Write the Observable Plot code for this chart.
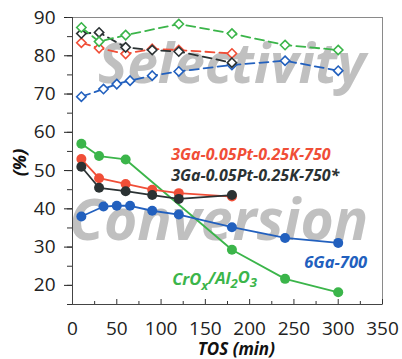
<!DOCTYPE html>
<html>
<head>
<meta charset="utf-8">
<script src="https://cdn.jsdelivr.net/npm/d3@7"></script>
<script src="https://cdn.jsdelivr.net/npm/@observablehq/plot@0.6"></script>
<style>
  body { margin: 0; background: #fff; }
  #chart svg { display: block; }
</style>
</head>
<body>
<div id="chart"></div>
<script>
// ---- data (TOS in min, values in %) ----
const convGreenT = [10, 30, 60, 180, 240, 300];
const convGreen  = [57.0, 53.8, 52.9, 29.3, 21.7, 18.2];
const convRedT   = [10, 30, 60, 90, 120, 180];
const convRed    = [53.0, 48.0, 46.5, 45.0, 44.1, 43.2];
const convBlackT = [10, 30, 60, 90, 120, 180];
const convBlack  = [51.0, 45.5, 44.6, 43.6, 42.6, 43.6];
const convBlueT  = [10, 35, 50, 65, 90, 120, 180, 240, 300];
const convBlue   = [38.0, 40.6, 40.8, 40.8, 39.5, 38.5, 35.2, 32.4, 31.1];

const selGreenT = [10, 30, 60, 120, 180, 240, 300];
const selGreen  = [87.4, 83.7, 85.4, 88.3, 85.8, 82.8, 81.5];
const selBlackT = [10, 30, 60, 90, 120, 180];
const selBlack  = [85.8, 86.1, 82.2, 81.5, 81.1, 78.2];
const selRedT   = [10, 30, 60, 90, 120, 180];
const selRed    = [83.4, 82.0, 80.5, 81.8, 81.5, 80.6];
const selBlueT  = [10, 35, 50, 65, 90, 120, 180, 240, 300];
const selBlue   = [69.3, 71.3, 72.6, 73.5, 74.8, 75.9, 77.6, 78.7, 76.1];

const xTicks = [0, 50, 100, 150, 200, 250, 300, 350];
const yTicks = [20, 30, 40, 50, 60, 70, 80, 90];

const GREEN = "#3bb54a", RED = "#f04e37", BLACK = "#2b3233", BLUE = "#2260be";

const zip = (t, v) => t.map((x, i) => ({x, y: v[i]}));

const conv = [
  {data: zip(convGreenT, convGreen), color: GREEN},
  {data: zip(convBlueT, convBlue), color: BLUE},
  {data: zip(convRedT, convRed), color: RED},
  {data: zip(convBlackT, convBlack), color: BLACK}
];
const sel = [
  {data: zip(selBlueT, selBlue), color: BLUE},
  {data: zip(selRedT, selRed), color: RED},
  {data: zip(selBlackT, selBlack), color: BLACK},
  {data: zip(selGreenT, selGreen), color: GREEN}
];

const FONT = "Open Sans";
const labelStyle = {fontFamily: FONT, fontWeight: "bold", fontStyle: "italic"};

const marks = [
  Plot.frame({stroke: "#8a8a8a", strokeWidth: 1}),
  Plot.text(["Selectivity"], {x: () => 180, y: () => 77.4, text: d => d, fill: "#c0c0c0",
    fontSize: 55, ...labelStyle, lineAnchor: "middle", textAnchor: "middle"}),
  Plot.text(["Conversion"], {x: () => 165, y: () => 36.5, text: d => d, fill: "#c0c0c0",
    fontSize: 57, ...labelStyle, lineAnchor: "middle", textAnchor: "middle"}),
  Plot.axisY({ticks: yTicks, tickSize: 8, tickPadding: 9, fontSize: 19, fontFamily: FONT, label: null, color: "#222"}),
  Plot.axisY({ticks: d3.range(15, 91, 5), tickSize: 5, text: null, label: null, color: "#333"}),
  Plot.axisX({ticks: xTicks, tickSize: 0, tickPadding: 17, fontSize: 19, fontFamily: FONT, label: null, color: "#222"}),
  Plot.axisX({ticks: xTicks, tickSize: -5, text: null, label: null, color: "#333"}),
  Plot.axisX({ticks: d3.range(25, 351, 50), tickSize: -3, text: null, label: null, color: "#333"}),
  Plot.ruleX([0], {stroke: "#444"}),
  Plot.ruleY([15], {stroke: "#444"})
];

for (const s of sel) {
  marks.push(Plot.line(s.data, {x: "x", y: "y", stroke: s.color, strokeWidth: 1.8, strokeDasharray: "9,5"}));
  marks.push(Plot.dot(s.data, {x: "x", y: "y", symbol: "diamond2", r: 4.2, stroke: s.color, strokeWidth: 1.6, fill: "white"}));
}
for (const s of conv) {
  marks.push(Plot.line(s.data, {x: "x", y: "y", stroke: s.color, strokeWidth: 1.8}));
  marks.push(Plot.dot(s.data, {x: "x", y: "y", r: 5, fill: s.color}));
}

marks.push(
  Plot.text(["3Ga-0.05Pt-0.25K-750"], {x: () => 111.4, y: () => 54.2, text: d => d, fill: RED,
    fontSize: 16, ...labelStyle, textAnchor: "start", lineAnchor: "middle"}),
  Plot.text(["3Ga-0.05Pt-0.25K-750*"], {x: () => 111.4, y: () => 48.7, text: d => d, fill: BLACK,
    fontSize: 16, ...labelStyle, textAnchor: "start", lineAnchor: "middle"}),
  Plot.text(["6Ga-700"], {x: () => 332.6, y: () => 26.0, text: d => d, fill: BLUE,
    fontSize: 16.5, ...labelStyle, textAnchor: "end", lineAnchor: "middle"}),
  Plot.text(["CrOx/Al2O3"], {x: () => 112.5, y: () => 21.5, text: d => d, fill: GREEN,
    fontSize: 16.5, ...labelStyle, textAnchor: "start", lineAnchor: "middle"}),
  Plot.text(["(%)"], {frameAnchor: "left", y: () => 52.1, text: d => d, dx: -52, rotate: -90,
    fill: "#111", fontSize: 18, ...labelStyle, textAnchor: "middle", lineAnchor: "middle"}),
  Plot.text(["TOS (min)"], {frameAnchor: "bottom", x: () => 185, text: d => d, dy: 45.5,
    fill: "#111", fontSize: 17, ...labelStyle, textAnchor: "middle", lineAnchor: "middle"})
);

const chart = Plot.plot({
  width: 402, height: 359,
  marginLeft: 72, marginRight: 20, marginTop: 17, marginBottom: 55,
  x: {domain: [0, 350]},
  y: {domain: [15, 90]},
  style: {fontFamily: FONT, background: "white", overflow: "visible"},
  marks
});

// subscripts for CrOx/Al2O3
d3.select(chart).selectAll("text").each(function() {
  const el = d3.select(this);
  if (el.text() === "CrOx/Al2O3") {
    el.text("");
    const parts = [["CrO", false], ["x", true], ["/Al", false], ["2", true], ["O", false], ["3", true]];
    for (const [t, sub] of parts) {
      const ts = el.append("tspan").text(t);
      if (sub) ts.attr("dy", "0.35em").attr("font-size", "0.8em");
      else if (t !== "CrO") ts.attr("dy", "-0.35em");
    }
  }
});

document.getElementById("chart").append(chart);
</script>
</body>
</html>
